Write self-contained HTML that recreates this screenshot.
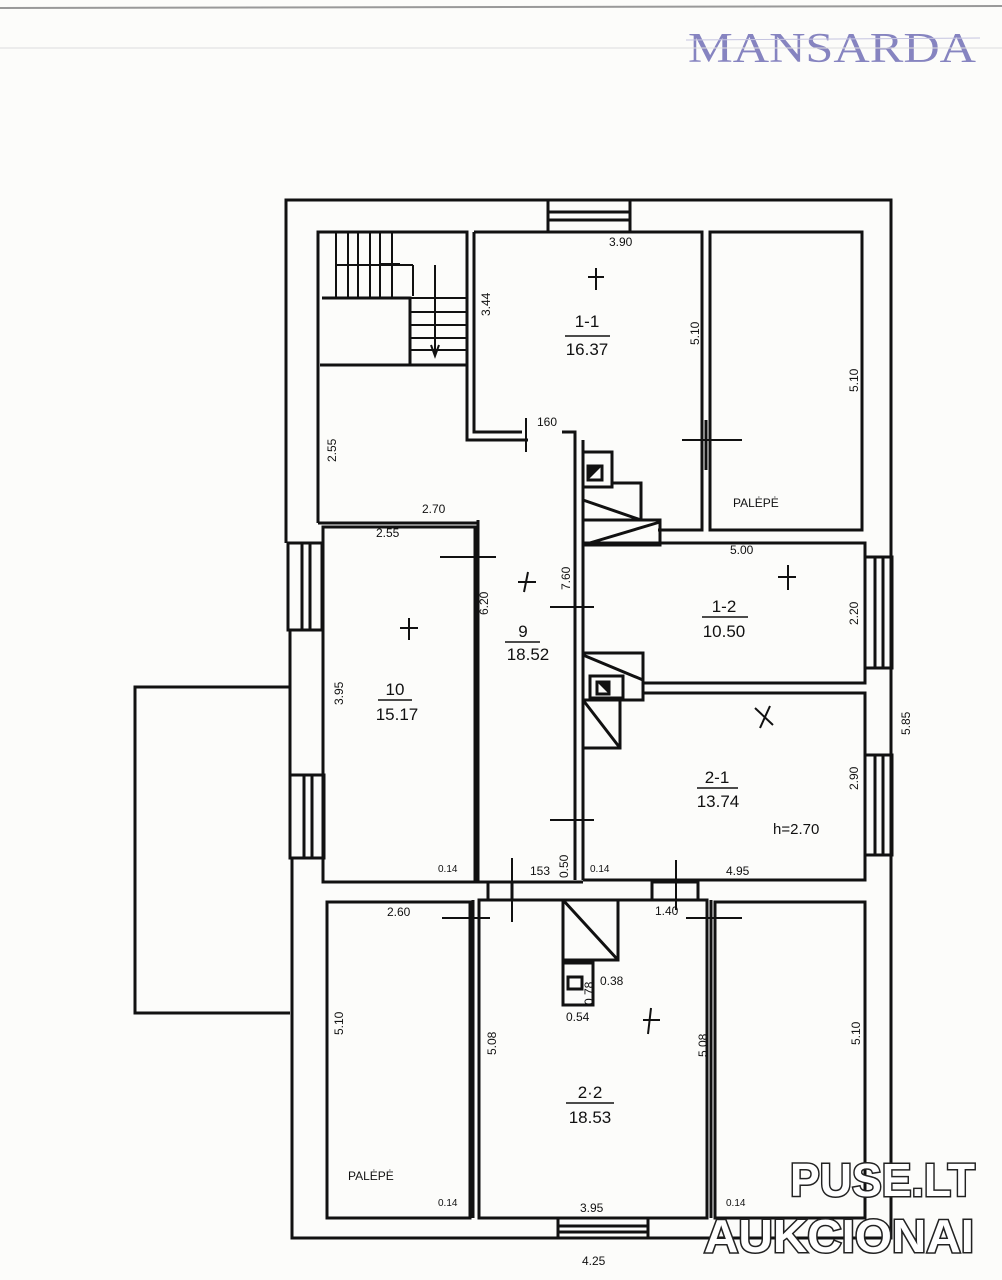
<!DOCTYPE html>
<html><head><meta charset="utf-8"><style>
html,body{margin:0;padding:0;background:#fcfcfa;}
svg{display:block}
text{font-family:"Liberation Sans",sans-serif;fill:#111}
</style></head><body>
<svg width="1002" height="1280" viewBox="0 0 1002 1280" xmlns="http://www.w3.org/2000/svg">
<rect width="1002" height="1280" fill="#fcfcfa"/>
<line x1="0" y1="8" x2="1002" y2="6" stroke="#999" stroke-width="2"/>
<text x="688" y="62" textLength="288" lengthAdjust="spacingAndGlyphs" font-size="42" style="fill:#8684c0;font-family:'Liberation Serif',serif">MANSARDA</text>
<line x1="686" y1="40" x2="980" y2="38" stroke="#c5c4e0" stroke-width="1"/>
<line x1="0" y1="48" x2="1002" y2="48" stroke="#ddd" stroke-width="1"/>
<g fill="none" stroke="#111" stroke-width="3">
<path d="M290,687 H135 V1013 H290"/>
<path d="M548,200 H286 V543"/>
<path d="M630,200 H891 V1238 H648"/>
<path d="M558,1238 H292 V858"/>
<path d="M290,630 V775"/>
<rect x="548" y="200" width="82" height="32"/><line x1="548" y1="212" x2="630" y2="212"/><line x1="548" y1="220" x2="630" y2="220"/>
<rect x="558" y="1218" width="90" height="20"/><line x1="558" y1="1226" x2="648" y2="1226"/><line x1="558" y1="1232" x2="648" y2="1232"/>
<rect x="288" y="543" width="34" height="87"/><line x1="302" y1="543" x2="302" y2="630"/><line x1="310" y1="543" x2="310" y2="630"/>
<rect x="290" y="775" width="34" height="83"/><line x1="304" y1="775" x2="304" y2="858"/><line x1="312" y1="775" x2="312" y2="858"/>
<rect x="865" y="557" width="27" height="111"/><line x1="875" y1="557" x2="875" y2="668"/><line x1="883" y1="557" x2="883" y2="668"/>
<rect x="865" y="755" width="27" height="100"/><line x1="875" y1="755" x2="875" y2="855"/><line x1="883" y1="755" x2="883" y2="855"/>
<path d="M318,523 V232 H467 V440 H528"/>
<path d="M318,523 H478 V532"/>
<path d="M322,298 H410 V365 H322"/>
<path d="M320,365 H467"/>
<g stroke-width="2">
<line x1="336" y1="232" x2="336" y2="298"/><line x1="348" y1="232" x2="348" y2="298"/><line x1="358" y1="232" x2="358" y2="298"/><line x1="370" y1="232" x2="370" y2="298"/><line x1="380" y1="232" x2="380" y2="298"/><line x1="392" y1="232" x2="392" y2="298"/>
<line x1="336" y1="265" x2="413" y2="265"/><line x1="413" y1="265" x2="413" y2="296"/>
<line x1="410" y1="298" x2="467" y2="298"/><line x1="410" y1="312" x2="467" y2="312"/><line x1="410" y1="325" x2="467" y2="325"/><line x1="410" y1="338" x2="467" y2="338"/><line x1="410" y1="350" x2="467" y2="350"/>
<line x1="435" y1="265" x2="435" y2="355"/><path d="M431,345 L435,356 L439,345"/>
<line x1="380" y1="264" x2="400" y2="264"/>
</g>
<path d="M474,232 V432 H522"/>
<path d="M562,432 H575 V545"/>
<path d="M474,232 H548 M630,232 H702 V530 H658"/>
<path d="M710,232 H862 V530 H710 Z"/>
<line x1="706" y1="420" x2="706" y2="470"/>
<path d="M583,452 H612 V487 H583"/>
<rect x="588" y="466" width="14" height="14"/>
<path d="M612,483 H641 V520 H583"/>
<path d="M583,500 L641,520"/>
<path d="M583,520 H660 V545 H583"/>
<path d="M583,545 L660,522"/>
<line x1="575" y1="440" x2="575" y2="880"/>
<line x1="583" y1="440" x2="583" y2="880"/>
<rect x="323" y="527" width="152" height="355"/>
<line x1="478" y1="520" x2="478" y2="882"/>
<path d="M583,543 H865 V683 H643"/>
<path d="M583,653 H643 V700 H583"/>
<path d="M583,655 L643,680"/>
<rect x="590" y="676" width="33" height="22"/><rect x="597" y="682" width="12" height="12"/>
<path d="M583,700 H620 V748 H583 Z"/>
<path d="M583,700 L620,748"/>
<path d="M643,693 H865 V880 H583"/>
<line x1="323" y1="882" x2="583" y2="882"/>
<line x1="479" y1="900" x2="707" y2="900"/>
<rect x="488" y="882" width="24" height="18"/>
<rect x="652" y="882" width="46" height="18"/>
<rect x="327" y="902" width="143" height="316"/>
<rect x="479" y="900" width="228" height="318"/>
<rect x="715" y="902" width="150" height="316"/>
<line x1="473" y1="900" x2="473" y2="1218"/>
<line x1="711" y1="900" x2="711" y2="1218"/>
<path d="M563,900 V960 H618 V900"/>
<path d="M563,900 L618,960"/>
<rect x="563" y="963" width="30" height="42"/><rect x="568" y="977" width="14" height="12"/>
</g>
<g fill="#111">
<polygon points="589,467 601,467 589,479"/>
<polygon points="598,683 608,683 608,693"/>
</g>
<g stroke="#111" stroke-width="2" fill="none">
<line x1="526" y1="418" x2="526" y2="452"/>
<line x1="682" y1="440" x2="742" y2="440"/>
<line x1="440" y1="557" x2="496" y2="557"/>
<line x1="550" y1="607" x2="594" y2="607"/>
<line x1="550" y1="820" x2="594" y2="820"/>
<line x1="512" y1="858" x2="512" y2="922"/>
<line x1="676" y1="860" x2="676" y2="910"/>
<line x1="442" y1="918" x2="490" y2="918"/>
<line x1="686" y1="918" x2="742" y2="918"/>
<path d="M588,277 H604 M596,268 V290"/>
<path d="M400,628 H418 M409,618 V640"/>
<path d="M518,582 H536 M528,572 L524,592"/>
<path d="M778,577 H796 M788,565 V590"/>
<path d="M755,708 L773,725 M770,706 L760,728"/>
<path d="M643,1020 H660 M651,1008 L648,1034"/>
</g>
<g font-size="12">
<text x="609" y="246">3.90</text>
<text x="537" y="426">160</text>
<text x="422" y="513">2.70</text>
<text x="376" y="537">2.55</text>
<text x="730" y="554">5.00</text>
<text x="530" y="875">153</text>
<text x="726" y="875">4.95</text>
<text x="655" y="915">1.40</text>
<text x="387" y="916">2.60</text>
<text x="600" y="985">0.38</text>
<text x="566" y="1021">0.54</text>
<text x="580" y="1212">3.95</text>
<text x="582" y="1265">4.25</text>
<text x="438" y="872" font-size="10">0.14</text>
<text x="590" y="872" font-size="10">0.14</text>
<text x="438" y="1206" font-size="10">0.14</text>
<text x="726" y="1206" font-size="10">0.14</text>
<text x="733" y="507">PALĖPĖ</text>
<text x="348" y="1180">PALĖPĖ</text>
<text x="773" y="834" font-size="15">h=2.70</text>
</g>
<g font-size="12">
<text transform="translate(490,316) rotate(-90)">3.44</text>
<text transform="translate(699,345) rotate(-90)">5.10</text>
<text transform="translate(858,392) rotate(-90)">5.10</text>
<text transform="translate(336,462) rotate(-90)">2.55</text>
<text transform="translate(570,590) rotate(-90)">7.60</text>
<text transform="translate(488,615) rotate(-90)">6.20</text>
<text transform="translate(343,705) rotate(-90)">3.95</text>
<text transform="translate(858,625) rotate(-90)">2.20</text>
<text transform="translate(858,790) rotate(-90)">2.90</text>
<text transform="translate(910,735) rotate(-90)">5.85</text>
<text transform="translate(568,878) rotate(-90)">0.50</text>
<text transform="translate(593,1005) rotate(-90)">0.78</text>
<text transform="translate(343,1035) rotate(-90)">5.10</text>
<text transform="translate(496,1055) rotate(-90)">5.08</text>
<text transform="translate(707,1057) rotate(-90)">5.08</text>
<text transform="translate(860,1045) rotate(-90)">5.10</text>
</g>
<g font-size="17" text-anchor="middle">
<text x="587" y="327">1-1</text><line x1="565" y1="336" x2="610" y2="336" stroke="#111" stroke-width="1.5"/><text x="587" y="355">16.37</text>
<text x="523" y="637">9</text><line x1="505" y1="642" x2="540" y2="642" stroke="#111" stroke-width="1.5"/><text x="528" y="660">18.52</text>
<text x="724" y="612">1-2</text><line x1="702" y1="617" x2="748" y2="617" stroke="#111" stroke-width="1.5"/><text x="724" y="637">10.50</text>
<text x="395" y="695">10</text><line x1="378" y1="700" x2="412" y2="700" stroke="#111" stroke-width="1.5"/><text x="397" y="720">15.17</text>
<text x="717" y="783">2-1</text><line x1="697" y1="788" x2="738" y2="788" stroke="#111" stroke-width="1.5"/><text x="718" y="807">13.74</text>
<text x="590" y="1098">2·2</text><line x1="566" y1="1103" x2="614" y2="1103" stroke="#111" stroke-width="1.5"/><text x="590" y="1123">18.53</text>
</g>
<g style="stroke:#222;stroke-width:3;paint-order:stroke">
<text x="790" y="1196" textLength="185" lengthAdjust="spacingAndGlyphs" font-size="46" style="font-family:'Liberation Sans',sans-serif;font-weight:bold;fill:#fff">PUSE.LT</text>
<text x="704" y="1252" textLength="270" lengthAdjust="spacingAndGlyphs" font-size="46" style="font-family:'Liberation Sans',sans-serif;font-weight:bold;fill:#fff">AUKCIONAI</text>
</g>
</svg>
</body></html>
